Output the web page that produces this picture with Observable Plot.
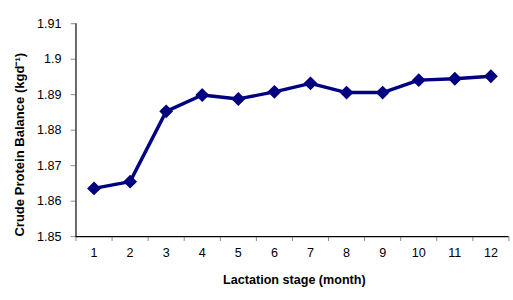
<!DOCTYPE html>
<html>
<head>
<meta charset="utf-8">
<script src="https://cdn.jsdelivr.net/npm/d3@7"></script>
<script src="https://cdn.jsdelivr.net/npm/@observablehq/plot@0.6"></script>
<style>
  html, body { margin: 0; padding: 0; background: white; overflow: hidden; }
  #chart { width: 513px; height: 300px; overflow: hidden; }
</style>
</head>
<body>
<div id="chart"></div>
<script>
const months = [1, 2, 3, 4, 5, 6, 7, 8, 9, 10, 11, 12];
const balance = [1.8636, 1.8655, 1.8853, 1.8899, 1.8888, 1.8908, 1.8932, 1.8906, 1.8906, 1.8941, 1.8945, 1.8952];
const yTicks = [1.85, 1.86, 1.87, 1.88, 1.89, 1.9, 1.91];
const xTickLabels = ["1", "2", "3", "4", "5", "6", "7", "8", "9", "10", "11", "12"];
const xTitle = "Lactation stage (month)";
const yTitle = "Crude Protein Balance (kgd\u207B\u00B9)";

const data = months.map((m, i) => ({month: m, value: balance[i]}));
const boundaries = months.map(m => m - 0.5).concat([months[months.length - 1] + 0.5]);

const navy = "#000080";

const chart = Plot.plot({
  width: 530,
  height: 300,
  marginLeft: 78,
  marginRight: 4.7,
  marginTop: 24,
  marginBottom: 56,
  x: {domain: [0.5, 12.5]},
  y: {domain: [1.85, 1.91]},
  style: {fontFamily: "'Liberation Sans', Arial, sans-serif", fontSize: "13px", color: "#000", background: "white", overflow: "visible"},
  marks: [
    Plot.axisY({ticks: yTicks, tickFormat: d => String(+d.toFixed(2)), tickSize: 5, tickPadding: 10, stroke: "#888", fill: "#000", label: null}),
    Plot.axisX({ticks: boundaries, tickFormat: () => "", tickSize: 5, stroke: "#888", label: null}),
    Plot.axisX({ticks: months, tickFormat: d => xTickLabels[d - 1], tickSize: 0, tickPadding: 11.5, fill: "#000", label: null}),
    Plot.ruleX([0.5], {stroke: "#000", strokeWidth: 1.2}),
    Plot.ruleY([1.85], {stroke: "#000", strokeWidth: 1.2}),
    Plot.line(data, {x: "month", y: "value", stroke: navy, strokeWidth: 3.5, strokeLinejoin: "round"}),
    Plot.dot(data, {x: "month", y: "value", symbol: "diamond2", r: 5.5, fill: navy, stroke: navy}),
    Plot.text([xTitle], {frameAnchor: "bottom", dy: 49, dx: 2, fontWeight: "bold", fontSize: 13, fill: "#000"}),
    Plot.text([yTitle], {frameAnchor: "left", textAnchor: "middle", rotate: -90, dx: -58, dy: 15, fontWeight: "bold", fontSize: 13.5, fill: "#000"})
  ]
});

document.getElementById("chart").appendChild(chart);
</script>
</body>
</html>
